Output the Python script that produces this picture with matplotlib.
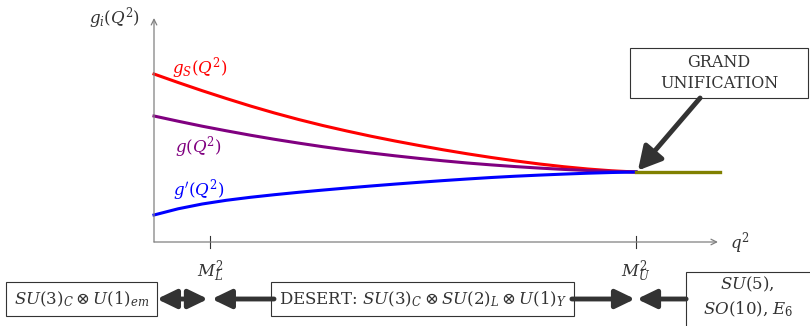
import matplotlib
matplotlib.use('Agg')
import matplotlib.pyplot as plt
from matplotlib.patches import Rectangle

plt.rcParams['font.family'] = 'DejaVu Serif'
plt.rcParams['mathtext.fontset'] = 'dejavuserif'

# energy scale q^2 (M_U^2 = 1) and couplings
q = [0.00, 0.05, 0.10, 0.15, 0.20, 0.25, 0.30, 0.35, 0.40, 0.45, 0.50,
     0.55, 0.60, 0.65, 0.70, 0.75, 0.80, 0.85, 0.90, 0.95, 1.00]
g_s = [1.68, 1.595, 1.513, 1.435, 1.36, 1.29, 1.225, 1.165, 1.11, 1.058, 1.01,
       0.965, 0.922, 0.882, 0.845, 0.811, 0.78, 0.753, 0.73, 0.712, 0.70]
g_w = [1.26, 1.208, 1.158, 1.112, 1.068, 1.027, 0.989, 0.953, 0.92, 0.89, 0.862,
       0.836, 0.812, 0.79, 0.771, 0.754, 0.739, 0.726, 0.715, 0.706, 0.70]
g_y = [0.27, 0.332, 0.38, 0.417, 0.447, 0.473, 0.497, 0.519, 0.54, 0.56, 0.579,
       0.597, 0.614, 0.63, 0.645, 0.658, 0.669, 0.679, 0.688, 0.695, 0.70]
q_gut = [1.0, 1.175]
g_gut = [0.70, 0.70]

scale_pos = [0.116, 1.0]
scale_labels = ['$M_L^2$', '$M_U^2$']

txt = '#333333'
dark = '#333333'

fig = plt.figure(figsize=(8.1, 3.26), dpi=100)
ax = fig.add_axes([0, 0, 1, 1])
ax.set_xlim(-0.3195, 1.361)
ax.set_ylim(-0.84, 2.42)
ax.axis('off')

# axes with arrows
ax.annotate('', xy=(1.17, 0), xytext=(0, 0),
            arrowprops=dict(arrowstyle='->', color='#808080', lw=0.9, shrinkA=0, shrinkB=0))
ax.annotate('', xy=(0, 2.24), xytext=(0, 0),
            arrowprops=dict(arrowstyle='->', color='#808080', lw=0.9, shrinkA=0, shrinkB=0))
for x, lab in zip(scale_pos, scale_labels):
    ax.plot([x, x], [-0.06, 0.06], color=dark, lw=0.8)
    ax.text(x, -0.30, lab, ha='center', va='center', fontsize=12, color=txt)
ax.text(-0.029, 2.24, '$g_i(Q^2)$', ha='right', va='center', fontsize=12, color=txt)
ax.text(1.195, -0.01, '$q^2$', ha='left', va='center', fontsize=12, color=txt)

# running couplings
ax.plot(q, g_s, color='red', lw=2.2)
ax.plot(q, g_w, color='purple', lw=2.2)
ax.plot(q, g_y, color='blue', lw=2.2)
ax.plot(q_gut, g_gut, color='olive', lw=2.4)

ax.text(0.037, 1.74, '$g_S(Q^2)$', color='red', fontsize=12, va='center')
ax.text(0.044, 0.95, '$g(Q^2)$', color='purple', fontsize=12, va='center')
ax.text(0.040, 0.52, "$g'(Q^2)$", color='blue', fontsize=12, va='center')

# grand unification box + arrow
ax.add_patch(Rectangle((0.988, 1.44), 0.369, 0.50, fc='white', ec=dark, lw=0.8))
ax.text(1.172, 1.69, 'GRAND\nUNIFICATION', ha='center', va='center',
        fontsize=11.5, color=txt, linespacing=1.3)
ax.annotate('', xy=(1.004, 0.715), xytext=(1.133, 1.44),
            arrowprops=dict(arrowstyle='-|>,head_length=0.7,head_width=0.38', color=dark,
                            lw=3.5, mutation_scale=20, shrinkA=0, shrinkB=0))

# symmetry boxes along the bottom
box = dict(boxstyle='square,pad=0.45', fc='white', ec=dark, lw=0.8)
yb = -0.57
ax.text(-0.150, yb, r'$SU(3)_C\otimes U(1)_{em}$', ha='center', va='center',
        fontsize=12, color=txt, bbox=box)
ax.text(0.558, yb, r'DESERT: $SU(3)_C\otimes SU(2)_L\otimes U(1)_Y$', ha='center', va='center',
        fontsize=12, color=txt, bbox=box)
ax.add_patch(Rectangle((1.104, -1.0), 0.4, 0.70, fc='white', ec=dark, lw=0.8))
ax.text(1.232, -0.55, '$SU(5)$,\n$SO(10)$, $E_6$', ha='center', va='center',
        fontsize=12, color=txt, linespacing=1.4)

hd = dict(color=dark, lw=3.5, mutation_scale=20, shrinkA=0, shrinkB=0)
ax.annotate('', xy=(0.112, yb), xytext=(0.006, yb),
            arrowprops=dict(arrowstyle='<|-|>,head_length=0.58,head_width=0.28', **hd))
ax.annotate('', xy=(0.120, yb), xytext=(0.249, yb),
            arrowprops=dict(arrowstyle='-|>,head_length=0.58,head_width=0.28', **hd))
ax.annotate('', xy=(0.998, yb), xytext=(0.867, yb),
            arrowprops=dict(arrowstyle='-|>,head_length=0.58,head_width=0.28', **hd))
ax.annotate('', xy=(1.002, yb), xytext=(1.104, yb),
            arrowprops=dict(arrowstyle='-|>,head_length=0.58,head_width=0.28', **hd))

fig.savefig('out.png', dpi=100)
